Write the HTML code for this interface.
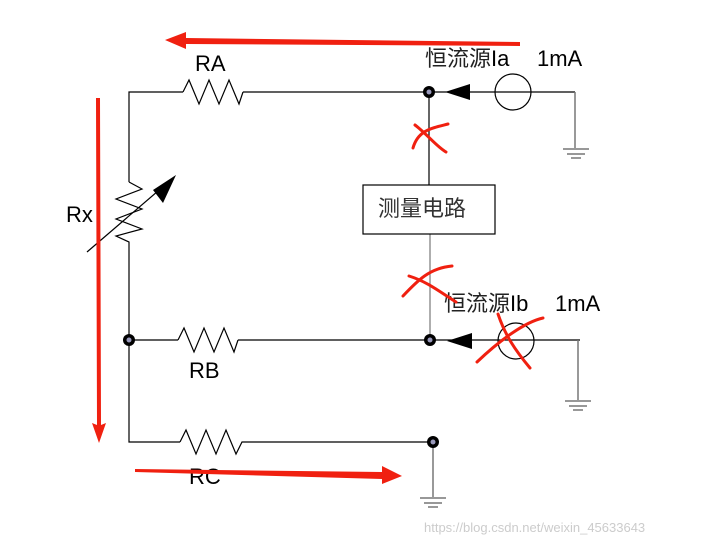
<!DOCTYPE html>
<html><head><meta charset="utf-8"><style>body{margin:0;background:#fff}svg{display:block}</style></head><body>
<svg width="705" height="545" viewBox="0 0 705 545" xmlns="http://www.w3.org/2000/svg" font-family="Liberation Sans, Noto Sans CJK SC, sans-serif">
<g stroke="#000" stroke-width="1.2" fill="none">
<polyline points="129,182 129,92 183,92"/>
<polyline points="183,92 189,80 199,104 209,80 219,104 229,80 239,104 243,92"/>
<line x1="243" y1="92" x2="575" y2="92"/>
<polyline points="129,182 142,189 116,199 142,209 116,219 142,229 116,236 129,242 129,442 180,442"/>
<line x1="87" y1="252" x2="165" y2="185"/>
<line x1="129" y1="340" x2="178" y2="340"/>
<polyline points="178,340 184,328 194,352 204,328 214,352 224,328 234,352 238,340"/>
<line x1="238" y1="340" x2="580" y2="340"/>
<polyline points="180,442 186,430 196,454 206,430 216,454 226,430 236,454 242,442 433,442"/>
<line x1="429" y1="92" x2="429" y2="185"/>
<line x1="430" y1="234" x2="430" y2="340" stroke="#777"/>
<rect x="363" y="185" width="132" height="49"/>
<circle cx="513" cy="92" r="18"/>
<circle cx="516" cy="341" r="18"/>
<g stroke="#777" stroke-width="1.5">
<line x1="575" y1="92" x2="575" y2="148"/>
<line x1="563" y1="149" x2="589" y2="149"/><line x1="567" y1="154" x2="585" y2="154"/><line x1="571" y1="158" x2="581" y2="158"/>
<line x1="578" y1="340" x2="578" y2="400"/>
<line x1="565" y1="401" x2="591" y2="401"/><line x1="569" y1="406" x2="587" y2="406"/><line x1="573" y1="410" x2="583" y2="410"/>
<line x1="433" y1="442" x2="433" y2="497"/>
<line x1="420" y1="498" x2="446" y2="498"/><line x1="424" y1="503" x2="442" y2="503"/><line x1="428" y1="507" x2="438" y2="507"/>
</g>
</g>
<polygon points="176,175 153,190 163,203" fill="#000"/>
<polygon points="445,92 470,84 470,100" fill="#000"/>
<polygon points="447,341 472,333 472,349" fill="#000"/>
<g fill="#000"><circle cx="429" cy="92" r="6"/><circle cx="430" cy="340" r="6"/><circle cx="129" cy="340" r="6"/><circle cx="433" cy="442" r="6"/></g>
<g fill="#99b"><circle cx="429" cy="92" r="2.5"/><circle cx="430" cy="340" r="2.5"/><circle cx="129" cy="340" r="2.5"/><circle cx="433" cy="442" r="2.5"/></g>
<g font-size="22" fill="#000">
<text x="195" y="71">RA</text>
<text x="66" y="222">Rx</text>
<text x="189" y="378">RB</text>
<text x="189" y="484">RC</text>
<text x="425" y="66" font-size="22" fill="#222">恒流源</text><text x="491" y="66">Ia</text><text x="537" y="66">1mA</text>
<text x="444" y="311" font-size="22" fill="#222">恒流源</text><text x="510" y="311">Ib</text><text x="555" y="311">1mA</text>
<text x="378" y="216" font-size="22" fill="#333">测量电路</text>
</g>
<text x="424" y="532" font-size="13" fill="#ccc">https://blog.csdn.net/weixin_45633643</text>
<g fill="#f02010">
<polygon points="520,42 186,38 186,32 165,40 186,49 186,44 520,46"/>
<polygon points="96,98 100,98 101,425 106,423 99,443 92,423 97,425"/>
<polygon points="135,469 382,472 382,466 402,476 382,484 382,479 135,472"/>
</g>
<g stroke="#f02010" stroke-width="3" fill="none" stroke-linecap="round">
<path d="M413,148 C418,130 432,128 448,124"/><path d="M415,125 C428,135 436,146 446,152"/>
<path d="M403,296 C418,280 430,268 452,266"/><path d="M409,276 C428,282 440,292 456,302"/>
<path d="M477,362 C500,340 525,322 543,318"/><path d="M498,314 C505,335 515,350 530,368"/>
</g>
</svg>
</body></html>
